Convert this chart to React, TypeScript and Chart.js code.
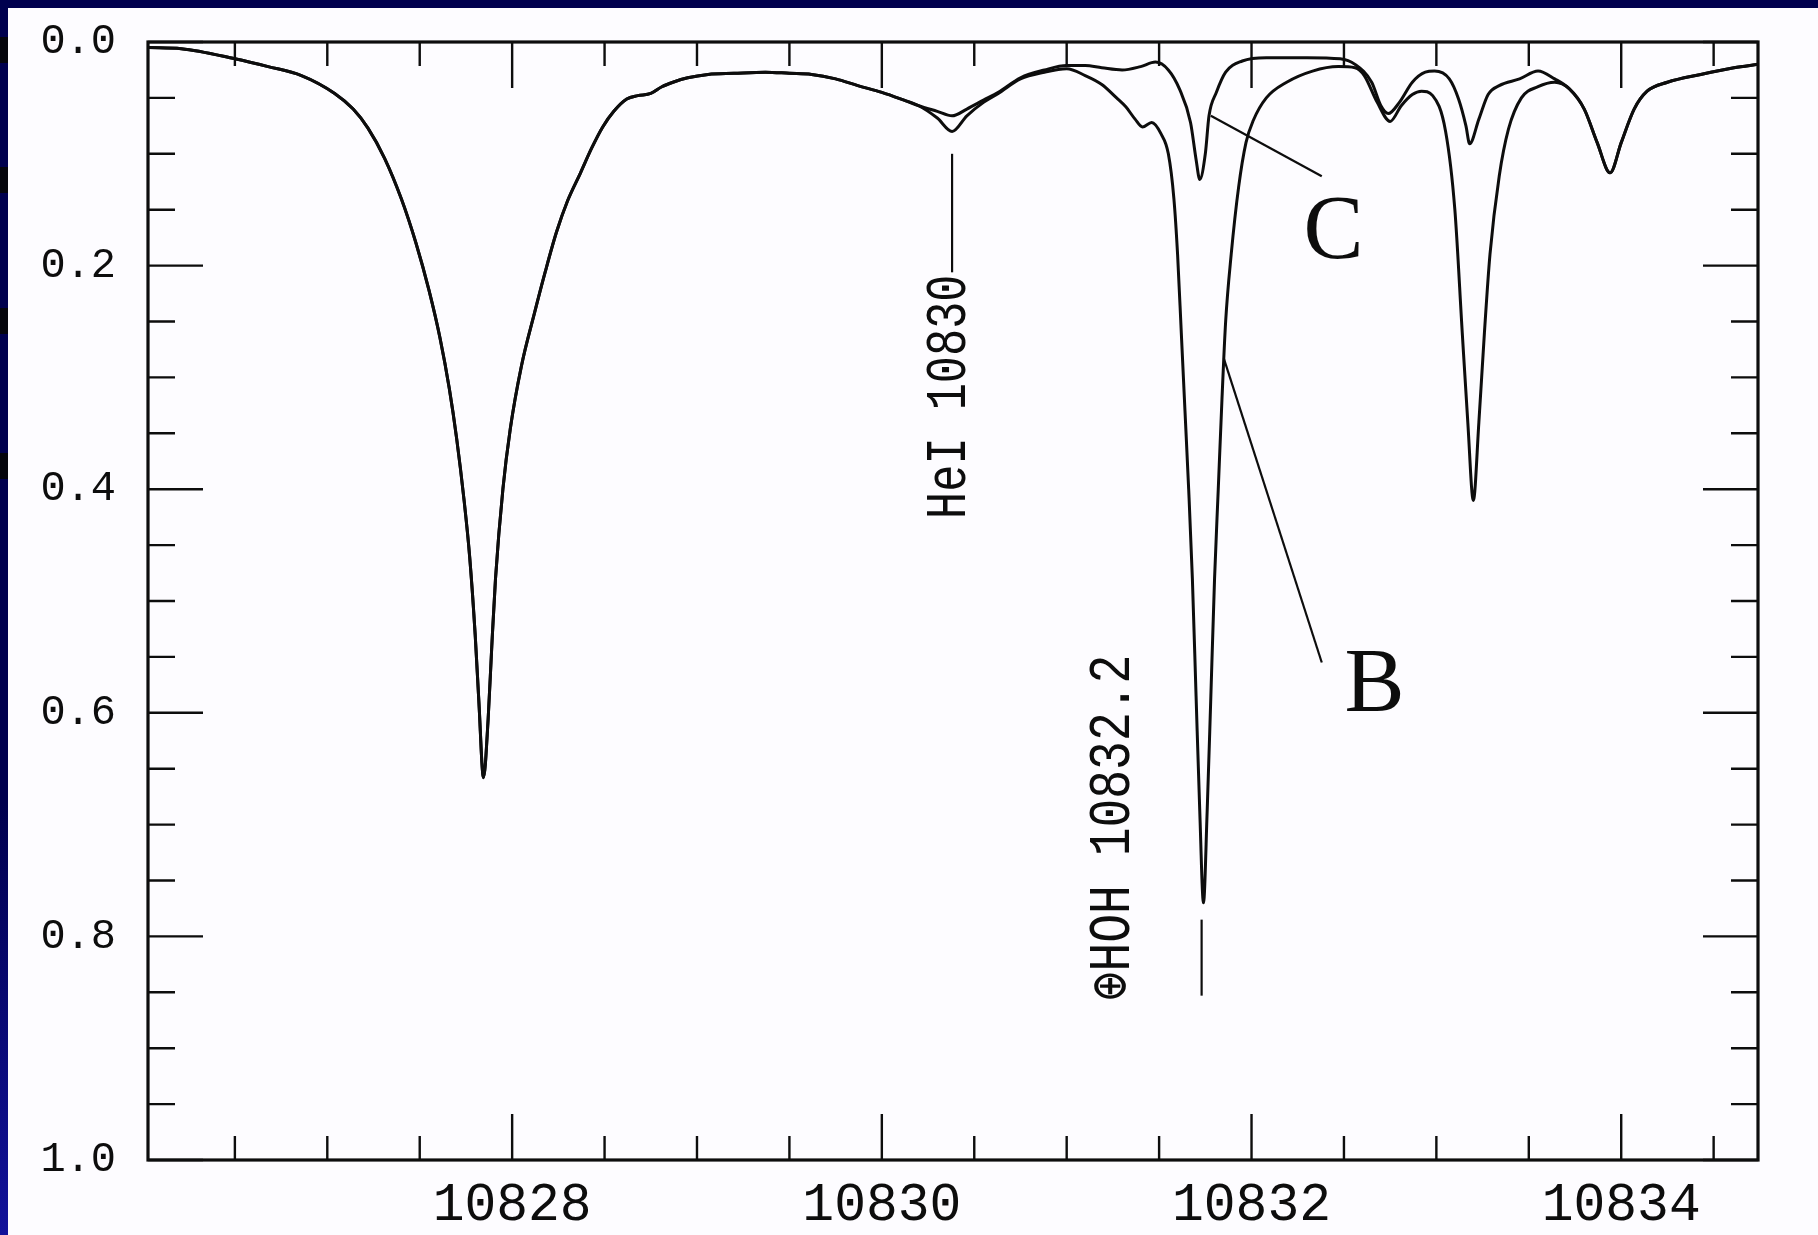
import React, { useEffect, useRef } from "react";
import { Chart, registerables } from "chart.js";

Chart.register(...registerables);

const W = 1818;
const H = 1235;
const NAVY = "#00004e";
const PAPER = "#fdfcff";
const INK = "#0d0d0d";

// axis ranges and ticks
const xRange = [10826.03, 10834.74];
const yRange = [0, 1];
const xTickValues = [10828, 10830, 10832, 10834];
const xMinorStep = 0.5;
const yTickValues = [0, 0.2, 0.4, 0.6, 0.8, 1.0];
const yMinorStep = 0.05;

// spectrum B (deep telluric HOH line)
const waveB = [
  10826.035, 10826.21, 10826.5, 10826.68, 10826.86, 10827.04, 10827.14, 10827.22, 10827.31, 10827.4,
  10827.48, 10827.55, 10827.61, 10827.66, 10827.7, 10827.74, 10827.77, 10827.8, 10827.82, 10827.845,
  10827.87, 10827.89, 10827.91, 10827.95, 10827.99, 10828.05, 10828.12, 10828.18, 10828.24, 10828.3,
  10828.37, 10828.43, 10828.49, 10828.55, 10828.62, 10828.68, 10828.75, 10828.81, 10828.87, 10828.95,
  10829.06, 10829.2, 10829.37, 10829.5, 10829.62, 10829.75, 10829.87, 10830.0, 10830.12, 10830.2,
  10830.3, 10830.38, 10830.46, 10830.55, 10830.63, 10830.75, 10830.88, 10831.0, 10831.1, 10831.19,
  10831.27, 10831.32, 10831.37, 10831.41, 10831.46, 10831.51, 10831.55, 10831.58, 10831.6, 10831.62,
  10831.64, 10831.66, 10831.68, 10831.7, 10831.72, 10831.74, 10831.76, 10831.78, 10831.8, 10831.82,
  10831.84, 10831.86, 10831.89, 10831.93, 10831.97, 10832.01, 10832.08, 10832.19, 10832.33, 10832.47,
  10832.56, 10832.61, 10832.68, 10832.75, 10832.81, 10832.87, 10832.92, 10832.98, 10833.05, 10833.1,
  10833.14, 10833.17, 10833.2, 10833.23, 10833.26, 10833.29, 10833.34, 10833.39, 10833.46, 10833.55,
  10833.64, 10833.72, 10833.8, 10833.87, 10833.94, 10834.0, 10834.07, 10834.14, 10834.25, 10834.43,
  10834.61, 10834.74,
];
const depthB = [
  0.005, 0.006, 0.015, 0.022, 0.03, 0.046, 0.06, 0.077, 0.104, 0.14,
  0.18, 0.222, 0.265, 0.31, 0.355, 0.41, 0.46, 0.53, 0.59, 0.658,
  0.606, 0.54, 0.48, 0.4, 0.346, 0.29, 0.243, 0.205, 0.17, 0.142,
  0.117, 0.095, 0.076, 0.062, 0.051, 0.048, 0.046, 0.04, 0.036, 0.032,
  0.029, 0.028, 0.027, 0.028, 0.029, 0.033, 0.039, 0.045, 0.052, 0.057,
  0.068, 0.08, 0.066, 0.054, 0.046, 0.033, 0.027, 0.024, 0.03, 0.038,
  0.05, 0.058, 0.069, 0.076, 0.072, 0.082, 0.1, 0.14, 0.19, 0.26,
  0.33, 0.4, 0.48, 0.585, 0.688, 0.77, 0.688, 0.585, 0.48, 0.4,
  0.32, 0.25, 0.19, 0.13, 0.09, 0.07, 0.05, 0.036, 0.026, 0.022,
  0.023, 0.03, 0.054, 0.071, 0.057, 0.047, 0.044, 0.048, 0.08, 0.15,
  0.26, 0.34, 0.41, 0.34, 0.26, 0.19, 0.12, 0.078, 0.05, 0.04,
  0.036, 0.042, 0.06, 0.09, 0.117, 0.09, 0.06, 0.044, 0.036, 0.029,
  0.023, 0.02,
];

// spectrum C (weak telluric absorption)
const waveC = [
  10826.035, 10826.21, 10826.5, 10826.68, 10826.86, 10827.04, 10827.14, 10827.22, 10827.31, 10827.4,
  10827.48, 10827.55, 10827.61, 10827.66, 10827.7, 10827.74, 10827.77, 10827.8, 10827.82, 10827.845,
  10827.87, 10827.89, 10827.91, 10827.95, 10827.99, 10828.05, 10828.12, 10828.18, 10828.24, 10828.3,
  10828.37, 10828.43, 10828.49, 10828.55, 10828.62, 10828.68, 10828.75, 10828.81, 10828.87, 10828.95,
  10829.06, 10829.2, 10829.37, 10829.5, 10829.62, 10829.75, 10829.87, 10830.0, 10830.12, 10830.2,
  10830.3, 10830.38, 10830.46, 10830.55, 10830.63, 10830.75, 10830.88, 10831.0, 10831.1, 10831.19,
  10831.3, 10831.4, 10831.48, 10831.55, 10831.61, 10831.67, 10831.7, 10831.72, 10831.75, 10831.77,
  10831.81, 10831.86, 10831.95, 10832.08, 10832.3, 10832.48, 10832.56, 10832.65, 10832.7, 10832.74,
  10832.8, 10832.87, 10832.94, 10832.99, 10833.07, 10833.12, 10833.16, 10833.18, 10833.23, 10833.28,
  10833.34, 10833.45, 10833.55, 10833.64, 10833.72, 10833.8, 10833.87, 10833.94, 10834.0, 10834.07,
  10834.14, 10834.25, 10834.43, 10834.61, 10834.74,
];
const depthC = [
  0.005, 0.006, 0.015, 0.022, 0.03, 0.046, 0.06, 0.077, 0.104, 0.14,
  0.18, 0.222, 0.265, 0.31, 0.355, 0.41, 0.46, 0.53, 0.59, 0.658,
  0.606, 0.54, 0.48, 0.4, 0.346, 0.29, 0.243, 0.205, 0.17, 0.142,
  0.117, 0.095, 0.076, 0.062, 0.051, 0.048, 0.046, 0.04, 0.036, 0.032,
  0.029, 0.028, 0.027, 0.028, 0.029, 0.033, 0.039, 0.045, 0.052, 0.057,
  0.062, 0.066, 0.06, 0.052, 0.045, 0.032, 0.025, 0.021, 0.021, 0.023,
  0.025, 0.022, 0.018, 0.025, 0.042, 0.072, 0.105, 0.123, 0.1, 0.066,
  0.045, 0.027, 0.017, 0.014, 0.014, 0.015, 0.02, 0.036, 0.057, 0.064,
  0.054, 0.036, 0.027, 0.026, 0.033, 0.051, 0.075, 0.091, 0.069, 0.047,
  0.039, 0.033, 0.026, 0.033, 0.042, 0.06, 0.09, 0.117, 0.09, 0.06,
  0.044, 0.036, 0.029, 0.023, 0.02,
];

// annotations (data coordinates)
const heLabel = "HeI 10830";
const heLine = { x: 10830.38, y1: 0.1, y2: 0.206 };
const heText = { x: 10830.367, yEnd: 0.208 };
const hohLabel = "\u2295HOH 10832.2";
const hohLine = { x: 10831.73, y1: 0.785, y2: 0.853 };
const hohText = { x: 10831.25, yEnd: 0.548 };
const cLabel = { text: "C", x: 10832.444, y: 0.193 };
const cPointer = { x1: 10831.78, y1: 0.066, x2: 10832.38, y2: 0.12 };
const bLabel = { text: "B", x: 10832.666, y: 0.598 };
const bPointer = { x1: 10831.85, y1: 0.283, x2: 10832.38, y2: 0.555 };

// dark marks in the left border strip (page pixels)
const stripMarks = [37, 167, 308, 453];

const framePlugin = {
  id: "framePlugin",
  beforeDraw(chart: any) {
    const ctx = chart.ctx;
    ctx.save();
    ctx.fillStyle = PAPER;
    ctx.fillRect(0, 0, W, H);
    ctx.fillStyle = NAVY;
    ctx.fillRect(0, 0, W, 8);
    const g = ctx.createLinearGradient(0, 0, 0, H);
    g.addColorStop(0, NAVY);
    g.addColorStop(0.65, NAVY);
    g.addColorStop(1, "#12129a");
    ctx.fillStyle = g;
    ctx.fillRect(0, 0, 8, H);
    ctx.fillStyle = "#05050c";
    stripMarks.forEach((y0) => ctx.fillRect(0, y0, 8, 26));
    ctx.restore();
  },
  afterDatasetsDraw(chart: any) {
    const ctx = chart.ctx;
    const ca = chart.chartArea;
    const xs = chart.scales.x;
    const ys = chart.scales.y;
    ctx.save();
    ctx.strokeStyle = INK;
    ctx.lineCap = "butt";
    // ticks on x (top & bottom, inward)
    ctx.lineWidth = 2.4;
    const k0 = Math.ceil(xs.min / xMinorStep);
    const k1 = Math.floor(xs.max / xMinorStep);
    for (let k = k0; k <= k1; k++) {
      const v = k * xMinorStep;
      const major = xTickValues.some((t) => Math.abs(t - v) < 1e-6);
      const len = major ? 46 : 24;
      const px = xs.getPixelForValue(v);
      ctx.beginPath();
      ctx.moveTo(px, ca.bottom);
      ctx.lineTo(px, ca.bottom - len);
      ctx.moveTo(px, ca.top);
      ctx.lineTo(px, ca.top + len);
      ctx.stroke();
    }
    // ticks on y (left & right, inward)
    const j1 = Math.round((yRange[1] - yRange[0]) / yMinorStep);
    for (let j = 0; j <= j1; j++) {
      const v = yRange[0] + j * yMinorStep;
      const major = yTickValues.some((t) => Math.abs(t - v) < 1e-6);
      const len = major ? 55 : 27;
      const py = ys.getPixelForValue(v);
      ctx.beginPath();
      ctx.moveTo(ca.left, py);
      ctx.lineTo(ca.left + len, py);
      ctx.moveTo(ca.right, py);
      ctx.lineTo(ca.right - len, py);
      ctx.stroke();
    }
    // box
    ctx.lineWidth = 3.2;
    ctx.strokeRect(ca.left, ca.top, ca.right - ca.left, ca.bottom - ca.top);

    // annotation lines
    const X = (v: number) => xs.getPixelForValue(v);
    const Y = (v: number) => ys.getPixelForValue(v);
    ctx.lineWidth = 2.2;
    const seg = (x1: number, y1: number, x2: number, y2: number) => {
      ctx.beginPath();
      ctx.moveTo(X(x1), Y(y1));
      ctx.lineTo(X(x2), Y(y2));
      ctx.stroke();
    };
    seg(heLine.x, heLine.y1, heLine.x, heLine.y2);
    seg(hohLine.x, hohLine.y1, hohLine.x, hohLine.y2);
    seg(cPointer.x1, cPointer.y1, cPointer.x2, cPointer.y2);
    seg(bPointer.x1, bPointer.y1, bPointer.x2, bPointer.y2);

    // rotated labels
    ctx.fillStyle = INK;
    const rot = (txt: string, x: number, yEnd: number, size: number, sx: number) => {
      ctx.save();
      ctx.translate(X(x), Y(yEnd));
      ctx.rotate(-Math.PI / 2);
      ctx.scale(sx, 1);
      ctx.font = `${size}px "Liberation Mono", "DejaVu Sans Mono", monospace`;
      ctx.textAlign = "right";
      ctx.textBaseline = "middle";
      ctx.fillText(txt, 0, 0);
      ctx.restore();
    };
    rot(heLabel, heText.x, heText.yEnd, 58, 0.78);
    rot(hohLabel, hohText.x, hohText.yEnd, 60, 0.8);

    // serif letters
    ctx.font = `90px "Liberation Serif", "DejaVu Serif", serif`;
    ctx.textAlign = "center";
    ctx.textBaseline = "alphabetic";
    ctx.fillText(cLabel.text, X(cLabel.x), Y(cLabel.y));
    ctx.fillText(bLabel.text, X(bLabel.x), Y(bLabel.y));
    ctx.restore();
  },
};

export default function App() {
  const ref = useRef<HTMLCanvasElement | null>(null);
  useEffect(() => {
    if (!ref.current) return;
    const toPts = (w: number[], d: number[]) => w.map((x, i) => ({ x, y: d[i] }));
    const chart = new Chart(ref.current, {
      type: "line",
      data: {
        datasets: [
          {
            label: "B",
            data: toPts(waveB, depthB),
            borderColor: INK,
            borderWidth: 3,
            pointRadius: 0,
            fill: false,
            cubicInterpolationMode: "monotone",
          },
          {
            label: "C",
            data: toPts(waveC, depthC),
            borderColor: INK,
            borderWidth: 3,
            pointRadius: 0,
            fill: false,
            cubicInterpolationMode: "monotone",
          },
        ],
      },
      options: {
        animation: false,
        responsive: false,
        devicePixelRatio: 1,
        layout: { padding: { left: 0, top: 42, right: 60, bottom: 0 } },
        plugins: { legend: { display: false }, tooltip: { enabled: false } },
        events: [],
        scales: {
          x: {
            type: "linear",
            min: xRange[0],
            max: xRange[1],
            grid: { display: false, drawTicks: false },
            border: { display: false },
            afterBuildTicks: (s: any) => {
              s.ticks = xTickValues.map((v) => ({ value: v }));
            },
            afterFit: (s: any) => {
              s.height = 75;
              s.paddingLeft = 0;
              s.paddingRight = 0;
            },
            ticks: {
              autoSkip: false,
              maxRotation: 0,
              padding: 14,
              color: INK,
              font: { family: '"Liberation Mono", monospace', size: 53 },
              callback: (v: any) => String(v),
            },
          },
          y: {
            type: "linear",
            reverse: true,
            min: yRange[0],
            max: yRange[1],
            grid: { display: false, drawTicks: false },
            border: { display: false },
            afterBuildTicks: (s: any) => {
              s.ticks = yTickValues.map((v) => ({ value: v }));
            },
            afterFit: (s: any) => {
              s.width = 148;
              s.paddingTop = 0;
              s.paddingBottom = 0;
            },
            ticks: {
              autoSkip: false,
              padding: 32,
              color: INK,
              font: { family: '"Liberation Mono", monospace', size: 42 },
              callback: (v: any) => Number(v).toFixed(1),
            },
          },
        },
      },
      plugins: [framePlugin],
    });
    return () => chart.destroy();
  }, []);
  return (
    <div style={{ position: "fixed", left: 0, top: 0, width: W, height: H }}>
      <canvas ref={ref} width={W} height={H} style={{ width: W, height: H, display: "block" }} />
    </div>
  );
}
